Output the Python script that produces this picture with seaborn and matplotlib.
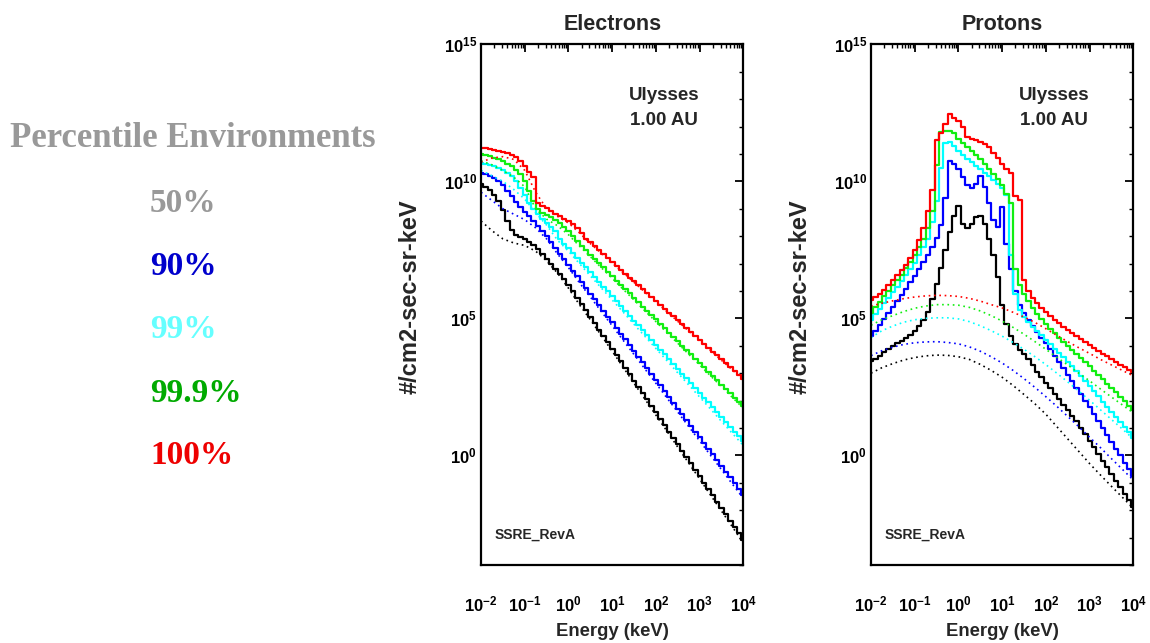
import numpy as np
import pandas as pd
import matplotlib
matplotlib.use("Agg")
import matplotlib.pyplot as plt
import matplotlib.ticker as mticker
import seaborn as sns

# ---------------------------------------------------------------------------
# Data: differential flux spectra (log10 of #/cm2-sec-sr-keV)
# ---------------------------------------------------------------------------
# Bin centres of the histogram spectra, log10(E / keV), 10 bins per decade
energy_exp = np.round(np.arange(-2.0, 4.05, 0.1), 1)
# Sample points of the smooth (dotted) model spectra, log10(E / keV)
model_exp = np.round(np.arange(-2.0, 4.05, 0.25), 2)

percentiles = ["50%", "90%", "99%", "99.9%", "100%"]
line_colors = ["#000000", "#0000ff", "#00ffff", "#11ee11", "#ff0000"]
label_colors = ["#999999", "#0000cc", "#66ffff", "#00aa00", "#ee0000"]

# Electrons, percentile spectra
elec_p50 = [9.89, 9.80, 9.68, 9.50, 9.28, 8.95, 8.55, 8.22, 8.05, 7.96, 7.88,
            7.78, 7.66, 7.52, 7.36, 7.18, 7.00, 6.80, 6.62, 6.42, 6.22,
            5.99, 5.76, 5.52, 5.29, 5.06, 4.83, 4.59, 4.36, 4.13, 3.90,
            3.66, 3.43, 3.20, 2.97, 2.73, 2.50, 2.27, 2.04, 1.80, 1.57,
            1.34, 1.10, 0.87, 0.64, 0.41, 0.17, -0.06, -0.29, -0.52, -0.76,
            -0.99, -1.22, -1.45, -1.69, -1.92, -2.15, -2.38, -2.62, -2.85, -3.08]
elec_p90 = [10.32, 10.25, 10.18, 10.12, 10.00, 9.85, 9.65, 9.45, 9.25, 9.05, 8.88,
            8.72, 8.55, 8.38, 8.20, 8.00, 7.80, 7.58, 7.35, 7.15, 6.95,
            6.74, 6.53, 6.32, 6.11, 5.90, 5.69, 5.48, 5.27, 5.06, 4.86,
            4.65, 4.44, 4.23, 4.02, 3.81, 3.60, 3.39, 3.18, 2.97, 2.76,
            2.55, 2.34, 2.13, 1.92, 1.71, 1.50, 1.29, 1.08, 0.87, 0.67,
            0.46, 0.25, 0.04, -0.17, -0.38, -0.59, -0.80, -1.01, -1.22, -1.43]
elec_p99 = [10.68, 10.64, 10.60, 10.55, 10.50, 10.40, 10.30, 10.19, 10.00, 9.75, 9.50,
            9.22, 9.00, 8.80, 8.62, 8.48, 8.35, 8.18, 7.90, 7.73, 7.56,
            7.38, 7.21, 7.03, 6.86, 6.68, 6.50, 6.33, 6.15, 5.98, 5.80,
            5.62, 5.45, 5.27, 5.10, 4.92, 4.74, 4.57, 4.39, 4.22, 4.04,
            3.86, 3.69, 3.51, 3.34, 3.16, 2.98, 2.81, 2.63, 2.46, 2.28,
            2.10, 1.93, 1.75, 1.58, 1.40, 1.22, 1.05, 0.87, 0.70, 0.52]
elec_p999 = [10.99, 10.95, 10.91, 10.86, 10.80, 10.73, 10.65, 10.55, 10.42, 10.25, 10.00,
             9.65, 9.30, 8.98, 8.86, 8.78, 8.70, 8.60, 8.47, 8.33, 8.17,
             8.00, 7.83, 7.65, 7.49, 7.33, 7.17, 7.02, 6.86, 6.70, 6.54,
             6.38, 6.22, 6.07, 5.91, 5.75, 5.59, 5.43, 5.27, 5.11, 4.96,
             4.80, 4.64, 4.48, 4.32, 4.16, 4.00, 3.85, 3.69, 3.53, 3.37,
             3.21, 3.05, 2.89, 2.74, 2.58, 2.42, 2.26, 2.10, 1.95, 1.79]
elec_p100 = [11.23, 11.20, 11.17, 11.13, 11.10, 11.06, 11.02, 10.97, 10.88, 10.76, 10.55,
             10.35, 10.15, 9.20, 9.10, 9.02, 8.92, 8.82, 8.72, 8.62, 8.55,
             8.45, 8.30, 8.12, 7.91, 7.77, 7.63, 7.48, 7.34, 7.20, 7.06,
             6.92, 6.77, 6.63, 6.49, 6.35, 6.21, 6.06, 5.92, 5.78, 5.64,
             5.50, 5.35, 5.21, 5.07, 4.93, 4.79, 4.64, 4.50, 4.36, 4.22,
             4.08, 3.93, 3.79, 3.65, 3.51, 3.37, 3.22, 3.08, 2.94, 2.80]

# Electrons, model spectra (dotted)
elec_model_p50 = [8.55, 8.20, 7.90, 7.75, 7.66, 7.45, 7.10, 6.65, 6.10, 5.50, 4.95, 4.38, 3.80,
                  3.22, 2.63, 2.05, 1.47, 0.89, 0.30, -0.28, -0.86, -1.45, -2.03, -2.61, -3.20]
elec_model_p90 = [9.60, 9.30, 9.00, 8.80, 8.60, 8.30, 7.90, 7.35, 6.85, 6.30, 5.78, 5.25, 4.73,
                  4.20, 3.68, 3.15, 2.63, 2.10, 1.58, 1.05, 0.53, 0.00, -0.52, -1.05, -1.57]
elec_model_p99 = [10.40, 10.20, 10.00, 9.70, 9.35, 8.85, 8.40, 7.85, 7.45, 7.00, 6.55, 6.11, 5.67,
                  5.23, 4.78, 4.34, 3.90, 3.46, 3.01, 2.57, 2.13, 1.69, 1.24, 0.80, 0.36]
elec_model_p999 = [10.75, 10.60, 10.40, 10.15, 9.80, 9.00, 8.62, 8.38, 8.05, 7.64, 7.25, 6.85, 6.46,
                   6.06, 5.67, 5.27, 4.88, 4.48, 4.09, 3.69, 3.30, 2.90, 2.51, 2.11, 1.72]
elec_model_p100 = [10.70, 10.85, 10.90, 10.80, 10.40, 9.60, 9.00, 8.72, 8.48, 8.12, 7.73, 7.38, 7.02,
                   6.67, 6.31, 5.96, 5.60, 5.25, 4.89, 4.54, 4.18, 3.83, 3.47, 3.12, 2.76]

# Protons, percentile spectra
prot_p50 = [3.43, 3.50, 3.62, 3.78, 3.90, 4.00, 4.10, 4.18, 4.28, 4.40, 4.55,
            4.72, 4.95, 5.25, 5.70, 6.25, 6.85, 7.50, 8.15, 8.75, 9.10,
            8.45, 8.30, 8.45, 8.70, 8.75, 8.45, 7.90, 7.30, 6.50, 5.50,
            4.80, 4.35, 4.05, 3.85, 3.70, 3.50, 3.28, 3.05, 2.85, 2.65,
            2.45, 2.25, 2.05, 1.85, 1.65, 1.45, 1.25, 1.01, 0.77, 0.53,
            0.29, 0.05, -0.19, -0.44, -0.68, -0.92, -1.16, -1.40, -1.64, -1.88]
prot_p90 = [4.34, 4.55, 4.76, 4.97, 5.18, 5.40, 5.62, 5.85, 6.08, 6.32, 6.56,
            6.80, 7.07, 7.33, 7.62, 7.95, 8.40, 9.40, 10.75, 10.65, 10.45,
            10.15, 9.85, 9.75, 9.90, 10.20, 9.80, 9.20, 8.60, 8.35, 9.05,
            7.70, 6.80, 6.00, 5.50, 5.20, 4.95, 4.72, 4.50, 4.30, 4.10,
            3.87, 3.64, 3.41, 3.18, 2.95, 2.71, 2.47, 2.23, 1.99, 1.75,
            1.50, 1.25, 1.00, 0.75, 0.50, 0.25, 0.00, -0.26, -0.51, -0.77]
prot_p99 = [4.95, 5.15, 5.35, 5.55, 5.75, 5.95, 6.15, 6.37, 6.58, 6.80, 7.03,
            7.30, 7.60, 7.90, 8.50, 9.30, 10.50, 11.40, 11.42, 11.30, 11.10,
            10.95, 10.82, 10.70, 10.57, 10.45, 10.32, 10.20, 10.05, 9.90, 9.75,
            9.50, 7.30, 5.90, 5.30, 5.05, 4.85, 4.68, 4.53, 4.38, 4.22,
            4.06, 3.90, 3.74, 3.58, 3.42, 3.26, 3.09, 2.90, 2.71, 2.53,
            2.34, 2.15, 1.96, 1.78, 1.59, 1.40, 1.21, 1.02, 0.84, 0.65]
prot_p999 = [5.20, 5.40, 5.60, 5.80, 6.00, 6.20, 6.40, 6.60, 6.82, 7.05, 7.30,
             7.60, 7.90, 8.30, 8.90, 10.60, 11.80, 11.82, 11.82, 11.75, 11.55,
             11.40, 11.25, 11.10, 10.95, 10.80, 10.62, 10.45, 10.28, 10.10, 9.85,
             9.55, 9.20, 6.80, 6.20, 5.90, 5.62, 5.38, 5.17, 4.97, 4.80,
             4.62, 4.45, 4.30, 4.15, 4.00, 3.85, 3.70, 3.55, 3.40, 3.25,
             3.09, 2.93, 2.77, 2.61, 2.45, 2.30, 2.14, 1.98, 1.82, 1.67]
prot_p100 = [5.68, 5.78, 5.90, 6.05, 6.22, 6.40, 6.58, 6.75, 6.95, 7.20, 7.50,
             7.85, 8.30, 8.90, 9.70, 11.50, 11.75, 12.10, 12.45, 12.30, 12.20,
             12.00, 11.60, 11.55, 11.50, 11.45, 11.35, 11.25, 11.05, 10.85, 10.62,
             10.45, 10.30, 9.45, 9.33, 6.40, 6.00, 5.75, 5.55, 5.38, 5.22,
             5.08, 4.95, 4.82, 4.70, 4.58, 4.46, 4.35, 4.24, 4.13, 4.02,
             3.92, 3.82, 3.71, 3.61, 3.51, 3.41, 3.31, 3.21, 3.12, 3.03]

# Protons, model spectra (dotted)
prot_model_p50 = [3.00, 3.20, 3.35, 3.48, 3.57, 3.63, 3.66, 3.65, 3.60, 3.50, 3.32, 3.10, 2.85,
                  2.55, 2.22, 1.88, 1.50, 1.05, 0.60, 0.15, -0.30, -0.72, -1.13, -1.53, -1.93]
prot_model_p90 = [3.64, 3.82, 3.95, 4.05, 4.11, 4.14, 4.15, 4.12, 4.07, 3.96, 3.80, 3.60, 3.37,
                  3.10, 2.80, 2.48, 2.14, 1.79, 1.42, 1.05, 0.66, 0.28, -0.12, -0.51, -0.90]
prot_model_p99 = [4.30, 4.55, 4.72, 4.86, 4.95, 5.00, 5.02, 5.02, 4.98, 4.88, 4.73, 4.55, 4.35,
                  4.12, 3.87, 3.60, 3.31, 3.00, 2.68, 2.35, 2.01, 1.66, 1.31, 0.96, 0.60]
prot_model_p999 = [4.75, 4.95, 5.10, 5.25, 5.37, 5.45, 5.50, 5.50, 5.48, 5.40, 5.27, 5.10, 4.90,
                   4.67, 4.42, 4.15, 3.87, 3.58, 3.30, 3.00, 2.72, 2.42, 2.13, 1.84, 1.55]
prot_model_p100 = [5.45, 5.55, 5.64, 5.72, 5.78, 5.82, 5.84, 5.83, 5.80, 5.73, 5.63, 5.50, 5.38,
                   5.22, 5.05, 4.85, 4.62, 4.38, 4.15, 3.93, 3.72, 3.50, 3.30, 3.10, 2.90]

x_tick_exp = [-2, -1, 0, 1, 2, 3, 4]
y_tick_exp = [0, 5, 10, 15]

# ---------------------------------------------------------------------------
# Styling
# ---------------------------------------------------------------------------
sns.set_style("white")
plt.rcParams["font.family"] = ["Liberation Sans", "DejaVu Sans"]
plt.rcParams["mathtext.fontset"] = "custom"
plt.rcParams["mathtext.rm"] = "Liberation Sans"
plt.rcParams["mathtext.bf"] = "Liberation Sans:bold"
plt.rcParams["mathtext.default"] = "regular"

fig = plt.figure(figsize=(11.5, 6.43), dpi=100)
fig.patch.set_facecolor("white")


def long_frame(exps, series):
    rows = []
    for name, vals in zip(percentiles, series):
        rows.append(pd.DataFrame({
            "energy": 10.0 ** np.asarray(exps, dtype=float),
            "flux": 10.0 ** np.asarray(vals, dtype=float),
            "percentile": name,
        }))
    return pd.concat(rows, ignore_index=True)


def decade_label(v, pos):
    return r"$\mathbf{10^{%d}}$" % int(round(np.log10(v)))


def draw_panel(ax, title, solid, model):
    ax.set_xscale("log")
    ax.set_yscale("log")
    palette = dict(zip(percentiles, line_colors))

    sns.lineplot(data=long_frame(energy_exp, solid), x="energy", y="flux",
                 hue="percentile", hue_order=percentiles, palette=palette,
                 estimator=None, sort=False, legend=False, ax=ax,
                 drawstyle="steps-mid", linewidth=1.6)
    sns.lineplot(data=long_frame(model_exp, model), x="energy", y="flux",
                 hue="percentile", hue_order=percentiles, palette=palette,
                 estimator=None, sort=False, legend=False, ax=ax,
                 linestyle=(0, (1, 2.2)), linewidth=1.2)

    ax.set_xlim(1e-2, 1e4)
    ax.set_ylim(1e-4, 1e15)
    ax.set_xlabel("")
    ax.set_ylabel("")

    ax.xaxis.set_major_locator(mticker.FixedLocator([10.0 ** k for k in x_tick_exp]))
    ax.xaxis.set_minor_locator(mticker.LogLocator(base=10, subs=np.arange(2, 10), numticks=100))
    ax.yaxis.set_major_locator(mticker.FixedLocator([10.0 ** k for k in y_tick_exp]))
    ax.yaxis.set_minor_locator(mticker.FixedLocator([10.0 ** k for k in range(-4, 16)]))
    ax.xaxis.set_major_formatter(mticker.FuncFormatter(decade_label))
    ax.yaxis.set_major_formatter(mticker.FuncFormatter(decade_label))
    ax.xaxis.set_minor_formatter(mticker.NullFormatter())
    ax.yaxis.set_minor_formatter(mticker.NullFormatter())

    ax.tick_params(which="both", direction="in", top=True, right=True, colors="black")
    ax.tick_params(which="major", length=6, width=1.3, labelsize=12)
    ax.tick_params(which="minor", length=3, width=1.0)
    ax.tick_params(axis="x", which="major", pad=21)
    ax.tick_params(axis="y", which="major", pad=3)
    for sp in ax.spines.values():
        sp.set_visible(True)
        sp.set_color("black")
        sp.set_linewidth(1.6)

    ax.text(0.5, 1.027, title, transform=ax.transAxes, ha="center", va="baseline",
            fontsize=15.5, fontweight="bold")
    ax.text(0.5, -0.136, "Energy (keV)", transform=ax.transAxes, ha="center",
            va="baseline", fontsize=13.3, fontweight="bold")
    ax.text(-0.269, 0.515, "#/cm2-sec-sr-keV", transform=ax.transAxes, rotation=90,
            ha="center", va="center", fontsize=17, fontweight="bold")
    ax.text(0.698, 0.893, "Ulysses", transform=ax.transAxes, ha="center",
            va="baseline", fontsize=13.5, fontweight="bold")
    ax.text(0.698, 0.845, "1.00 AU", transform=ax.transAxes, ha="center",
            va="baseline", fontsize=13.5, fontweight="bold")
    ax.text(0.053, 0.050, "SSRE_RevA", transform=ax.transAxes, ha="left",
            va="baseline", fontsize=10, fontweight="bold")


ax_e = fig.add_axes([0.4183, 0.1213, 0.2281, 0.8098])
ax_p = fig.add_axes([0.7574, 0.1213, 0.2281, 0.8098])

draw_panel(ax_e, "Electrons",
           [elec_p50, elec_p90, elec_p99, elec_p999, elec_p100],
           [elec_model_p50, elec_model_p90, elec_model_p99, elec_model_p999, elec_model_p100])
draw_panel(ax_p, "Protons",
           [prot_p50, prot_p90, prot_p99, prot_p999, prot_p100],
           [prot_model_p50, prot_model_p90, prot_model_p99, prot_model_p999, prot_model_p100])

# Percentile key on the left
serif = ["Liberation Serif", "DejaVu Serif"]
fig.text(0.0087, 1 - 147 / 643, "Percentile Environments", family=serif,
         fontsize=25, fontweight="bold", color="#999999", ha="left", va="baseline")
key_baselines = [212, 275, 338, 402, 464]
for name, col, yb in zip(percentiles, label_colors, key_baselines):
    fig.text(150 / 1150, 1 - yb / 643, name, family=serif, fontsize=24,
             fontweight="bold", color=col, ha="left", va="baseline")

fig.savefig("out.png", dpi=100, facecolor="white")
